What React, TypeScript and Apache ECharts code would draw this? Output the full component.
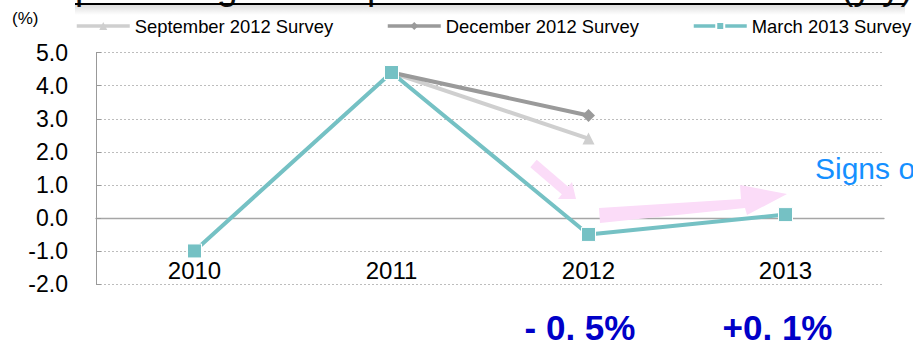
import React, { useEffect, useRef } from "react";
import * as echarts from "echarts";

const years = ["2010", "2011", "2012", "2013"];
const sept2012 = [null, 4.4, 2.4, null];
const dec2012 = [null, 4.4, 3.1, null];
const mar2013 = [-1.0, 4.4, -0.5, 0.1];
const seriesNames = ["September 2012 Survey", "December 2012 Survey", "March 2013 Survey"];
const changeLabels = ["- 0. 5%", "+0. 1%"];
const titleTail = "pertaining to Companies' Software Investment (y/y)";
const signsText = "Signs of recovery";
const unitLabel = "(%)";

const SANS = "'Liberation Sans', Arial, Helvetica, sans-serif";
const PINK = "#FBDCF8";
const TEAL = "#75C1C4";
const legendLefts = [75, 386, 692];

export default function App() {
  const ref = useRef<HTMLDivElement>(null);
  useEffect(() => {
    if (!ref.current) return;
    const chart = echarts.init(ref.current, null, { renderer: "svg" });
    const legends = seriesNames.map((name, i) => ({
      left: legendLefts[i],
      top: 17,
      padding: 0,
      itemWidth: 53,
      itemHeight: 10,
      data: [name],
      lineStyle: { width: 3.5 },
      textStyle: { fontFamily: SANS, fontSize: 18.4, color: "#000" },
    }));
    const option: any = {
      animation: false,
      grid: {
        left: 96,
        width: 788,
        top: 52.7,
        height: 231.3,
        containLabel: false,
        outerBoundsMode: "none",
      },
      legend: legends,
      xAxis: {
        type: "category",
        data: years,
        boundaryGap: true,
        axisLine: { show: true, onZero: true, lineStyle: { color: "#a6a6a6", width: 1.3 } },
        axisTick: { show: false },
        axisLabel: {
          margin: -26,
          fontFamily: SANS,
          fontSize: 24,
          lineHeight: 24,
          color: "#000",
          verticalAlign: "top",
        },
        splitLine: { show: false },
      },
      yAxis: {
        type: "value",
        min: -2,
        max: 5,
        interval: 1,
        axisLine: { show: true, lineStyle: { color: "#999", width: 1 } },
        axisTick: { show: true, inside: true, length: 5, lineStyle: { color: "#999" } },
        axisLabel: {
          margin: 28,
          fontFamily: SANS,
          fontSize: 23,
          color: "#000",
          formatter: (v: number) => v.toFixed(1),
        },
        splitLine: { show: true, lineStyle: { color: "#bdbdbd", type: [2, 2], width: 1 } },
      },
      series: [
        {
          name: seriesNames[0],
          type: "line",
          data: sept2012,
          symbol: "triangle",
          symbolSize: 12,
          color: "#CFCFCF",
          lineStyle: { color: "#CFCFCF", width: 4 },
          itemStyle: { color: "#CFCFCF" },
          z: 2,
        },
        {
          name: seriesNames[1],
          type: "line",
          data: dec2012,
          symbol: "diamond",
          symbolSize: 13,
          color: "#9A9A9A",
          lineStyle: { color: "#9A9A9A", width: 4 },
          itemStyle: { color: "#9A9A9A" },
          z: 3,
        },
        {
          name: seriesNames[2],
          type: "line",
          data: mar2013,
          symbol: "rect",
          symbolSize: 14,
          color: TEAL,
          lineStyle: { color: TEAL, width: 4 },
          itemStyle: { color: TEAL, borderColor: "#fff", borderWidth: 1 },
          z: 4,
        },
      ],
      graphic: [
        {
          type: "rect",
          shape: { x: 75, y: 5, width: 830, height: 10 },
          style: {
            fill: new echarts.graphic.LinearGradient(0, 0, 0, 1, [
              { offset: 0, color: "rgba(0,0,0,0.13)" },
              { offset: 1, color: "rgba(0,0,0,0)" },
            ]),
          },
          z: 100,
        },
        {
          type: "text",
          x: 75,
          y: -14,
          style: { text: titleTail, fontFamily: SANS, fontSize: 37, fill: "#111", verticalAlign: "middle" },
          z: 100,
        },
        {
          type: "line",
          shape: { x1: 75, y1: 4, x2: 905, y2: 4 },
          style: { stroke: "#000", lineWidth: 2 },
          z: 101,
        },
        {
          type: "text",
          x: 12,
          y: 18,
          style: { text: unitLabel, fontFamily: SANS, fontSize: 17, fill: "#000", verticalAlign: "middle" },
          z: 100,
        },
        {
          type: "polygon",
          shape: {
            points: [
              [536.7, 159.7],
              [568.2, 186.7],
              [572, 182],
              [576, 199],
              [558, 199],
              [561.8, 194.3],
              [530.3, 167.3],
            ],
          },
          style: { fill: PINK },
          z: 100,
        },
        {
          type: "polygon",
          shape: {
            points: [
              [599, 208],
              [741, 199],
              [740, 185],
              [787, 194],
              [747, 215],
              [745, 208],
              [600, 223],
            ],
          },
          style: { fill: PINK },
          z: 100,
        },
        {
          type: "text",
          x: 815,
          y: 168,
          style: { text: signsText, fontFamily: SANS, fontSize: 30, fill: "#1590FF", verticalAlign: "middle" },
          z: 100,
        },
        {
          type: "text",
          x: 580,
          y: 327,
          style: {
            text: changeLabels[0],
            fontFamily: SANS,
            fontWeight: "bold",
            fontSize: 35,
            fill: "#0000C8",
            align: "center",
            verticalAlign: "middle",
          },
          z: 100,
        },
        {
          type: "text",
          x: 777.5,
          y: 327,
          style: {
            text: changeLabels[1],
            fontFamily: SANS,
            fontWeight: "bold",
            fontSize: 35,
            fill: "#0000C8",
            align: "center",
            verticalAlign: "middle",
          },
          z: 100,
        },
      ],
    };
    chart.setOption(option);
    return () => chart.dispose();
  }, []);
  return (
    <div
      ref={ref}
      style={{ position: "fixed", left: 0, top: 0, width: 913, height: 344, background: "#fff", overflow: "hidden" }}
    />
  );
}
